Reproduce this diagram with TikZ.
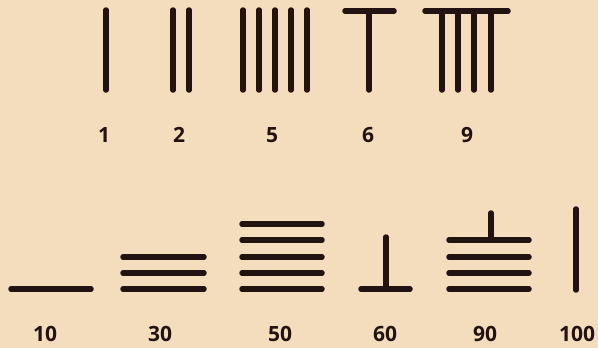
\documentclass[tikz,border=0pt]{standalone}
\usepackage{fontspec}
\setmainfont{Open Sans}
\usepackage{xcolor}
\definecolor{paper}{HTML}{F3DDBC}
\definecolor{ink}{HTML}{221212}

\begin{document}
\begin{tikzpicture}[
    x=1pt, y=-1pt,
    rod/.style={draw=ink, line width=5.5pt, line cap=round},
    num/.style={text=ink, font=\bfseries\fontsize{21}{23}\selectfont, inner sep=0pt, anchor=base}
]
\fill[paper] (0,0) rectangle (598,348);
\useasboundingbox (0,0) rectangle (598,348);
% units row
\draw[rod] (106,10) -- (106,90);
\foreach \x in {173,189} \draw[rod] (\x,10) -- (\x,90);
\foreach \x in {243,259,275,291,307} \draw[rod] (\x,10) -- (\x,90);
\draw[rod] (345,11) -- (394,11);
\draw[rod] (369,11) -- (369,90);
\draw[rod] (425,11) -- (508,11);
\foreach \x in {442,458,474,491} \draw[rod] (\x,11) -- (\x,90);
\node[num] (one) at (104,142) {1};
\node[num] (two) at (179,142) {2};
\node[num] (five) at (272,142) {5};
\node[num] (six) at (368,142) {6};
\node[num] (nine) at (467,142) {9};
% tens row
\draw[rod] (11,289) -- (91,289);
\foreach \y in {257,273,289} \draw[rod] (123,\y) -- (204,\y);
\foreach \y in {224,240,257,273,289} \draw[rod] (242,\y) -- (322,\y);
\draw[rod] (361,289) -- (410,289);
\draw[rod] (386,237) -- (386,289);
\foreach \y in {240,257,273,289} \draw[rod] (449,\y) -- (529,\y);
\draw[rod] (491,213) -- (491,240);
\draw[rod] (576,209) -- (576,290);
\node[num] (ten) at (45,341) {10};
\node[num] (thirty) at (160,341) {30};
\node[num] (fifty) at (280,341) {50};
\node[num] (sixty) at (385,341) {60};
\node[num] (ninety) at (485,341) {90};
\node[num] (hundred) at (577,341) {100};
\end{tikzpicture}
\end{document}
